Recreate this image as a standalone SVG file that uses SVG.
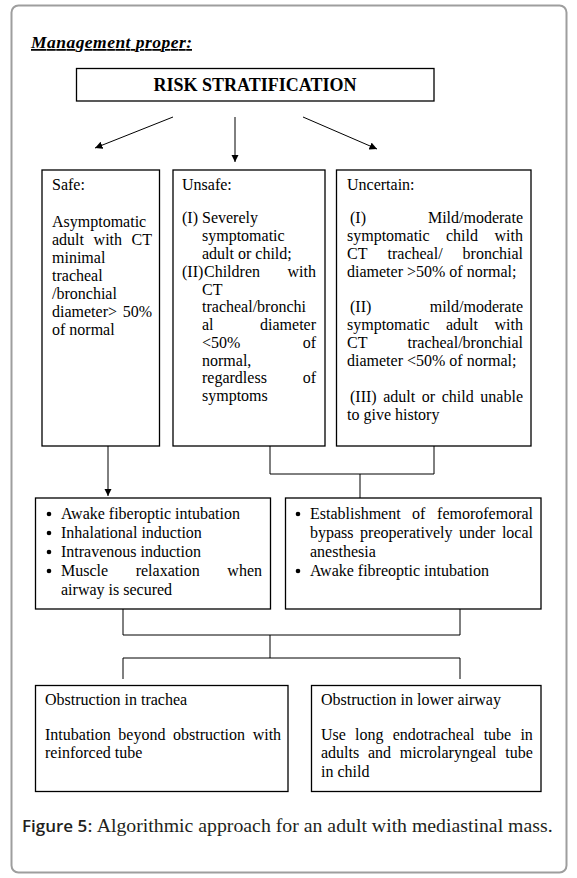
<svg xmlns="http://www.w3.org/2000/svg" width="577" height="878" viewBox="0 0 577 878">
<defs>
<marker id="ah" viewBox="0 0 10 10" refX="10" refY="5" markerWidth="7.5" markerHeight="7.5" markerUnits="userSpaceOnUse" orient="auto">
<path d="M0,0 L10,5 L0,10 z" fill="#000"/>
</marker>
<style>
.t{font-family:"Liberation Serif","Times New Roman",serif;font-size:16px;fill:#000}
.box{fill:#fff;stroke:#000;stroke-width:1.3}
.ln{fill:none;stroke:#000;stroke-width:1}
.e{text-anchor:end}
.b{fill:#000}
</style>
</defs>
<rect x="0" y="0" width="577" height="878" fill="#fff"/>
<rect x="11.5" y="5.5" width="555" height="867" rx="7" fill="none" stroke="#9e9e9e" stroke-width="2"/>

<g id="title">
<text x="31" y="48" font-family="Liberation Serif,serif" font-size="17.5" font-weight="bold" font-style="italic" text-decoration="underline" textLength="161">Management proper:</text>
</g>

<g id="risk">
<rect class="box" x="76.5" y="68.5" width="357.5" height="32.5"/>
<text x="255" y="91" text-anchor="middle" font-family="Liberation Serif,serif" font-size="18" font-weight="bold">RISK STRATIFICATION</text>
</g>

<g id="connectors">
<line class="ln" x1="173" y1="117" x2="95" y2="148" marker-end="url(#ah)"/>
<line class="ln" x1="235" y1="117" x2="235" y2="162" marker-end="url(#ah)"/>
<line class="ln" x1="303" y1="117" x2="377" y2="149" marker-end="url(#ah)"/>
<line class="ln" x1="108" y1="446" x2="108" y2="496" marker-end="url(#ah)"/>
<polyline class="ln" points="270,446 270,474 434,474 434,446"/>
<line class="ln" x1="360" y1="474" x2="360" y2="498"/>
<polyline class="ln" points="123,609 123,635 460,635 460,609"/>
<line class="ln" x1="270" y1="635" x2="270" y2="658"/>
<polyline class="ln" points="123,679 123,658 460,658 460,679"/>
</g>

<g id="safe">
<rect class="box" x="42" y="170" width="117.5" height="276"/>
<text class="t" x="52" y="190">Safe:</text>
<text class="t" x="52" y="227">Asymptomatic</text>
<text class="t" y="245"><tspan x="52">adult</tspan><tspan x="93.6">with</tspan></text>
<text class="t e" x="152" y="245">CT</text>
<text class="t" x="52" y="263">minimal</text>
<text class="t" x="52" y="281">tracheal</text>
<text class="t" x="52" y="299">/bronchial</text>
<text class="t" x="52" y="317">diameter&gt;</text>
<text class="t e" x="152" y="317">50%</text>
<text class="t" x="52" y="335">of normal</text>
</g>

<g id="unsafe">
<rect class="box" x="173" y="170" width="152" height="276"/>
<text class="t" x="182" y="190">Unsafe:</text>
<text class="t" x="182" y="223">(I)</text>
<text class="t" x="202" y="223">Severely</text>
<text class="t" x="202" y="241">symptomatic</text>
<text class="t" x="202" y="259">adult or child;</text>
<text class="t" x="182" y="277">(II)</text>
<text class="t" x="204" y="277">Children</text>
<text class="t e" x="316" y="277">with</text>
<text class="t" x="202" y="295">CT</text>
<text class="t" x="202" y="312">tracheal/bronchi</text>
<text class="t" x="202" y="330">al</text>
<text class="t e" x="316" y="330">diameter</text>
<text class="t" x="202" y="348">&lt;50%</text>
<text class="t e" x="316" y="348">of</text>
<text class="t" x="202" y="366">normal,</text>
<text class="t" x="202" y="383">regardless</text>
<text class="t e" x="316" y="383">of</text>
<text class="t" x="202" y="401">symptoms</text>
</g>

<g id="uncertain">
<rect class="box" x="336.5" y="170" width="194.5" height="276"/>
<text class="t" x="347" y="190">Uncertain:</text>
<text class="t" x="350" y="223">(I)</text>
<text class="t e" x="523" y="223">Mild/moderate</text>
<text class="t" y="241"><tspan x="347">symptomatic</tspan><tspan x="446">child</tspan></text>
<text class="t e" x="523" y="241">with</text>
<text class="t" y="259"><tspan x="347">CT</tspan><tspan x="387.5">tracheal/</tspan></text>
<text class="t e" x="523" y="259">bronchial</text>
<text class="t" x="347" y="277">diameter &gt;50% of normal;</text>
<text class="t" x="350" y="312">(II)</text>
<text class="t e" x="523" y="312">mild/moderate</text>
<text class="t" y="330"><tspan x="347">symptomatic</tspan><tspan x="446">adult</tspan></text>
<text class="t e" x="523" y="330">with</text>
<text class="t" x="347" y="348">CT</text>
<text class="t e" x="523" y="348">tracheal/bronchial</text>
<text class="t" x="347" y="366">diameter &lt;50% of normal;</text>
<text class="t" x="350" y="402" word-spacing="2.6">(III) adult or child unable</text>
<text class="t" x="347" y="420">to give history</text>
</g>

<g id="options-safe">
<rect class="box" x="35.5" y="498" width="235" height="111"/>
<circle class="b" cx="49" cy="514" r="2.3"/>
<text class="t" x="61" y="519">Awake fiberoptic intubation</text>
<circle class="b" cx="49" cy="533" r="2.3"/>
<text class="t" x="61" y="538">Inhalational induction</text>
<circle class="b" cx="49" cy="552" r="2.3"/>
<text class="t" x="61" y="557">Intravenous induction</text>
<circle class="b" cx="49" cy="571" r="2.3"/>
<text class="t" y="576"><tspan x="61">Muscle</tspan><tspan x="135.7">relaxation</tspan></text>
<text class="t e" x="262" y="576">when</text>
<text class="t" x="61" y="595">airway is secured</text>
</g>

<g id="options-unsafe">
<rect class="box" x="285.5" y="498" width="255.5" height="111"/>
<circle class="b" cx="298" cy="514" r="2.3"/>
<text class="t" y="519"><tspan x="310">Establishment</tspan><tspan x="412">of</tspan></text>
<text class="t e" x="533" y="519">femorofemoral</text>
<text class="t" x="310" y="538" word-spacing="2.5">bypass preoperatively under local</text>
<text class="t" x="310" y="557">anesthesia</text>
<circle class="b" cx="298" cy="571" r="2.3"/>
<text class="t" x="310" y="576">Awake fibreoptic intubation</text>
</g>

<g id="trachea">
<rect class="box" x="35.5" y="685.5" width="252.5" height="106"/>
<text class="t" x="45" y="705">Obstruction in trachea</text>
<text class="t" x="45" y="740" word-spacing="3.6">Intubation beyond obstruction with</text>
<text class="t" x="45" y="758">reinforced tube</text>
</g>

<g id="lower-airway">
<rect class="box" x="311.5" y="685.5" width="229.5" height="106"/>
<text class="t" x="321" y="705">Obstruction in lower airway</text>
<text class="t" x="321" y="740" word-spacing="5.2">Use long endotracheal tube in</text>
<text class="t" x="321" y="758" word-spacing="4.7">adults and microlaryngeal tube</text>
<text class="t" x="321" y="777">in child</text>
</g>

<g id="caption">
<text x="22" y="832" fill="#231f20"><tspan font-family="Open Sans,Noto Sans,sans-serif" font-size="17" font-weight="600">Figure 5</tspan><tspan font-family="Liberation Serif,serif" font-size="19.8">: Algorithmic approach for an adult with mediastinal mass.</tspan></text>
</g>
</svg>
